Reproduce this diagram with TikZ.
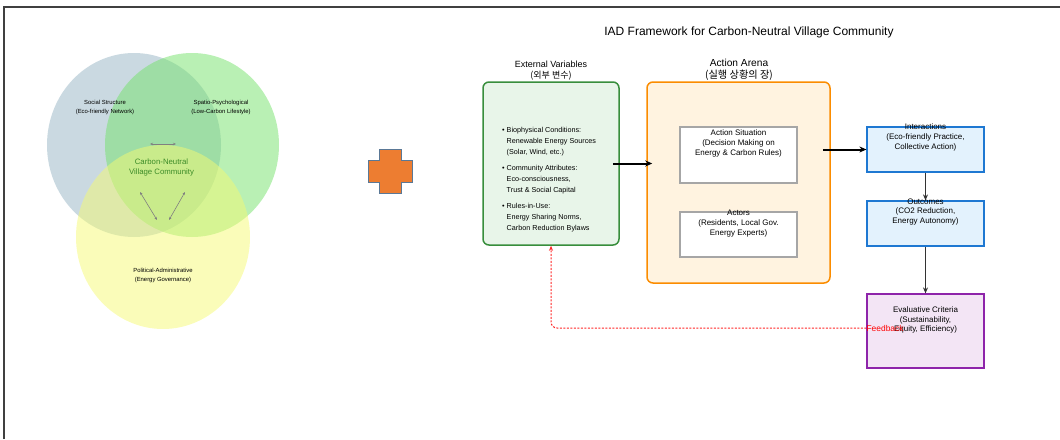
\documentclass[tikz,border=0pt]{standalone}
\usepackage{fontspec}
\setmainfont{Liberation Sans}
\newfontfamily\kr{Noto Sans CJK KR}
\usetikzlibrary{calc,arrows.meta}
\definecolor{venblue}{RGB}{150,180,195}
\definecolor{vengreen}{RGB}{115,225,105}
\definecolor{venyellow}{RGB}{245,250,115}
\definecolor{vencore}{RGB}{60,140,40}
\definecolor{plusorange}{RGB}{237,125,49}
\definecolor{plusline}{RGB}{90,120,150}
\definecolor{extgreen}{RGB}{56,142,60}
\definecolor{extfill}{RGB}{232,245,233}
\definecolor{arenaorange}{RGB}{251,140,0}
\definecolor{arenafill}{RGB}{255,243,224}
\definecolor{outblue}{RGB}{30,120,210}
\definecolor{outfill}{RGB}{227,242,253}
\definecolor{evalpurple}{RGB}{142,36,170}
\definecolor{evalfill}{RGB}{243,229,245}
\begin{document}
\begin{tikzpicture}[x=1pt,y=-1pt,>={Stealth[length=7pt,width=6pt]},font=\fontsize{7}{9.5}\selectfont,
	roundbox/.style={draw,rounded corners=6pt,line width=1.5pt,inner sep=0pt},
	flatbox/.style={draw,line width=1.2pt,inner sep=0pt,minimum width=117pt},
	boxlab/.style={align=center,inner sep=0pt,font=\fontsize{8}{9.7}\selectfont},
	venlab/.style={align=center,inner sep=0pt,font=\fontsize{5.9}{8.5}\selectfont}]
	\useasboundingbox (0,0) rectangle (1060,439);
	\draw[line width=2pt,black!75] (4,439)--(4,7)--(1060,7);
	\fill[venblue,fill opacity=0.5] (134,145) ellipse (87pt and 92pt);
	\fill[vengreen,fill opacity=0.5] (192,145) ellipse (87pt and 92pt);
	\fill[venyellow,fill opacity=0.5] (163,237) ellipse (87pt and 92pt);
	\node[venlab] (social) at (105,107.5) {Social Structure\\(Eco-friendly Network)};
	\node[venlab] (spatio) at (221,107.5) {Spatio-Psychological\\(Low-Carbon Lifestyle)};
	\node[venlab] (polit) at (163,275.5) {Political-Administrative\\(Energy Governance)};
	\node[align=center,inner sep=0pt,text=vencore,font=\fontsize{7.8}{10}\selectfont] (core) at (161.5,167) {Carbon-Neutral\\Village Community};
	\draw[<->,>={Stealth[length=3pt,width=2.5pt]},gray,line width=0.6pt] (150,144)--(176,144);
	\draw[<->,>={Stealth[length=3pt,width=2.5pt]},gray,line width=0.6pt] (140,192)--(157,220);
	\draw[<->,>={Stealth[length=3pt,width=2.5pt]},gray,line width=0.6pt] (185,192)--(169,220);
	\filldraw[fill=plusorange,draw=plusline,line width=0.6pt] (379,149)--(401,149)--(401,160)--(412,160)--(412,182)--(401,182)--(401,193)--(379,193)--(379,182)--(368,182)--(368,160)--(379,160)--cycle;
	\node[inner sep=0pt,font=\fontsize{12}{14}\selectfont] (title) at (749,32) {IAD Framework for Carbon-Neutral Village Community};
	\node[roundbox,draw=extgreen,fill=extfill,minimum width=136pt,minimum height=163pt] (ext) at (551,163.5) {};
	\node[align=center,inner sep=0pt,font=\fontsize{9}{11}\selectfont] (exttitle) at (551,70.5) {External Variables\\{\kr(외부 변수)}};
	\node[align=left,anchor=north west,inner sep=0pt,font=\fontsize{7.2}{11}\selectfont] (extlist) at (502,127) {• Biophysical Conditions:\\\phantom{• }Renewable Energy Sources\\\phantom{• }(Solar, Wind, etc.)\\[5pt]• Community Attributes:\\\phantom{• }Eco-consciousness,\\\phantom{• }Trust \& Social Capital\\[5pt]• Rules-in-Use:\\\phantom{• }Energy Sharing Norms,\\\phantom{• }Carbon Reduction Bylaws};
	\node[roundbox,draw=arenaorange,fill=arenafill,minimum width=183pt,minimum height=201pt] (arena) at (738.5,182.5) {};
	\node[align=center,inner sep=0pt,font=\fontsize{10.2}{12}\selectfont] (arenatitle) at (739,70) {Action Arena\\{\kr(실행 상황의 장)}};
	\node[flatbox,draw=gray!70,fill=white,minimum height=56pt,label={[boxlab,anchor=north,yshift=-3.5pt]north:{Action Situation\\(Decision Making on\\Energy \& Carbon Rules)}}] (sit) at (738.5,155) {};
	\node[flatbox,draw=gray!70,fill=white,minimum height=45pt,label={[boxlab,anchor=north,yshift=1.5pt]north:{Actors\\(Residents, Local Gov.\\Energy Experts)}}] (actors) at (738.5,234.5) {};
	\node[flatbox,draw=outblue,fill=outfill,minimum height=45pt,label={[boxlab,anchor=north,yshift=2.5pt]north:{Interactions\\(Eco-friendly Practice,\\Collective Action)}}] (inter) at (925.5,149.5) {};
	\node[flatbox,draw=outblue,fill=outfill,minimum height=45pt,label={[boxlab,anchor=north,yshift=2pt]north:{Outcomes\\(CO2 Reduction,\\Energy Autonomy)}}] (out) at (925.5,223.5) {};
	\node[flatbox,draw=evalpurple,fill=evalfill,minimum height=74pt,label={[boxlab,anchor=north,yshift=-13pt]north:{Evaluative Criteria\\(Sustainability,\\Equity, Efficiency)}}] (eval) at (925.5,331) {};
	\draw[->,line width=2pt] ($(ext.east)+(-7,0)$) -- ($(arena.west|-ext.east)+(6,0)$);
	\draw[->,line width=2pt] ($(arena.east|-inter.west)+(-8,0)$) -- (inter.west);
	\draw[->,>={Stealth[length=6pt,width=5pt]},line width=1.6pt,black!80] (inter.south) -- (out.north);
	\draw[->,>={Stealth[length=6pt,width=5pt]},line width=1.6pt,black!80] (out.south) -- (eval.north);
	\draw[->,>={Stealth[length=5pt,width=4pt]},red!85,dash pattern=on 2pt off 1.5pt,rounded corners=6pt,line width=1pt] ($(eval.west)+(0,-3)$) -| (ext.south);
	\node[anchor=west,inner sep=0pt,text=red,font=\fontsize{8.4}{10}\selectfont] (fb) at ($(eval.west)+(0,-3)$) {Feedback};
\end{tikzpicture}
\end{document}
